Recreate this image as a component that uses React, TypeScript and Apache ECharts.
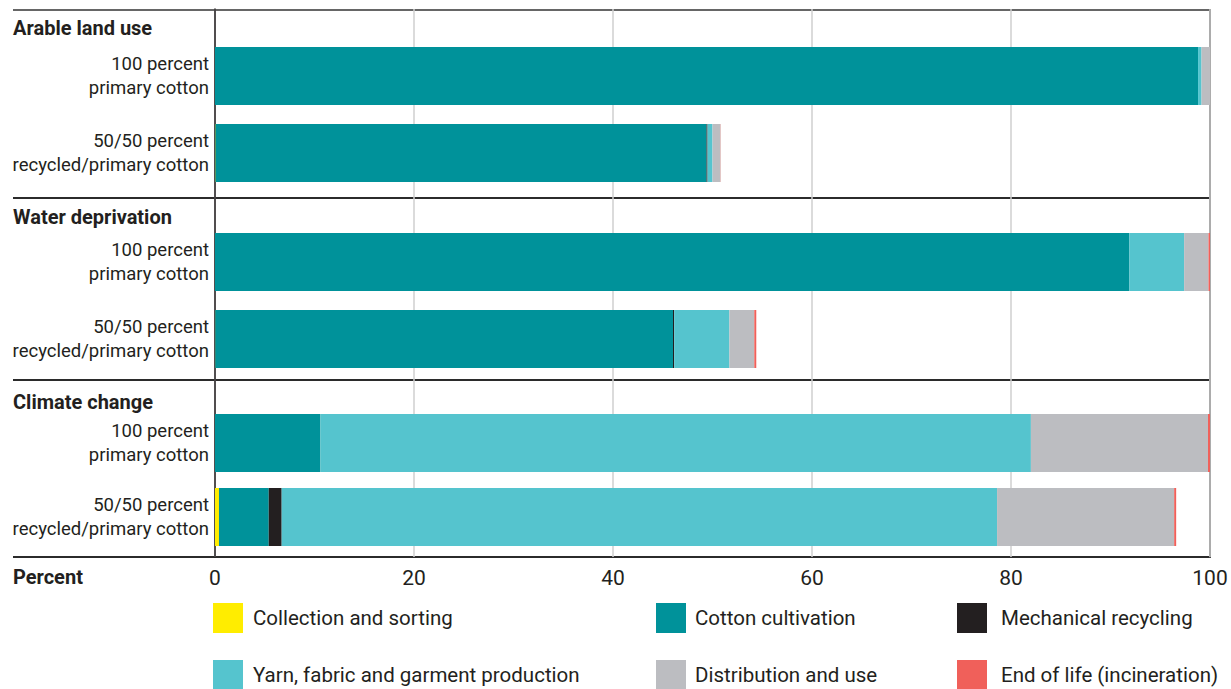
import React, { useEffect, useRef } from "react";
import * as echarts from "echarts";

const groups = ["Arable land use", "Water deprivation", "Climate change"];
const categories = ["100 percent\nprimary cotton", "50/50 percent\nrecycled/primary cotton"];
const stages = [
  "Collection and sorting",
  "Cotton cultivation",
  "Mechanical recycling",
  "Yarn, fabric and garment production",
  "Distribution and use",
  "End of life (incineration)",
];
const stageColors = ["#FFED00", "#00929A", "#231F20", "#55C4CE", "#BCBDC1", "#F0605A"];
const xTicks = [0, 20, 40, 60, 80, 100];

// values per group: [100 percent primary, 50/50 recycled/primary]
const arableLand = {
  collection: [0, 0.05],
  cotton: [98.8, 49.35],
  mechanical: [0, 0.1],
  yarn: [0.35, 0.5],
  distribution: [0.85, 0.8],
  endOfLife: [0.02, 0.02],
};
const waterDeprivation = {
  collection: [0, 0.03],
  cotton: [91.9, 46.0],
  mechanical: [0, 0.12],
  yarn: [5.5, 5.55],
  distribution: [2.45, 2.5],
  endOfLife: [0.15, 0.2],
};
const climateChange = {
  collection: [0, 0.4],
  cotton: [10.6, 5.0],
  mechanical: [0, 1.3],
  yarn: [71.4, 71.9],
  distribution: [17.8, 17.8],
  endOfLife: [0.2, 0.2],
};
const groupData = [arableLand, waterDeprivation, climateChange];
const stageKeys = ["collection", "cotton", "mechanical", "yarn", "distribution", "endOfLife"];

const TEXT = "#231F20";
const FONT = "Roboto";

export default function App() {
  const ref = useRef<HTMLDivElement>(null);
  useEffect(() => {
    document.body.style.margin = "0";
    if (!ref.current) return;
    const chart = echarts.init(ref.current, undefined, { renderer: "svg" });

    const plotLeft = 215;
    const plotRight = 21;
    const barGrids = [
      { top: 37.5, height: 154 },
      { top: 223.5, height: 154 },
      { top: 406, height: 148 },
    ];
    const grid: any[] = [{ left: plotLeft, right: plotRight, top: 9, height: 548 }];
    barGrids.forEach((g) => grid.push({ left: plotLeft, right: plotRight, top: g.top, height: g.height }));

    const xAxis: any[] = [
      {
        type: "value",
        gridIndex: 0,
        min: 0,
        max: 100,
        interval: 20,
        axisLine: { show: false },
        axisTick: { show: false },
        splitLine: { show: true, lineStyle: { color: "#CFCFCF", width: 1.5 } },
        axisLabel: { fontFamily: FONT, fontSize: 21, color: TEXT, margin: 10, formatter: (v: number) => (xTicks.includes(v) ? String(v) : "") },
      },
    ];
    const yAxis: any[] = [
      {
        type: "value",
        gridIndex: 0,
        min: 0,
        max: 1,
        axisLine: { show: true, lineStyle: { color: TEXT, width: 1.5 } },
        axisTick: { show: false },
        axisLabel: { show: false },
        splitLine: { show: false },
      },
    ];
    barGrids.forEach((_, i) => {
      xAxis.push({
        type: "value",
        gridIndex: i + 1,
        min: 0,
        max: 100,
        show: false,
        splitLine: { show: false },
      });
      yAxis.push({
        type: "category",
        gridIndex: i + 1,
        data: categories,
        inverse: true,
        axisLine: { show: false },
        axisTick: { show: false },
        axisLabel: { fontFamily: FONT, fontSize: 18.5, color: TEXT, margin: 6, lineHeight: 24, align: "right" },
      });
    });

    const series: any[] = [];
    groupData.forEach((gd: any, gi) => {
      stageKeys.forEach((k, si) => {
        series.push({
          type: "bar",
          name: stages[si],
          xAxisIndex: gi + 1,
          yAxisIndex: gi + 1,
          stack: "g" + gi,
          barWidth: 58,
          data: gd[k],
          itemStyle: { color: stageColors[si] },
          emphasis: { disabled: true },
        });
      });
    });

    const legendPos = [
      { left: 213, top: 603 },
      { left: 656, top: 603 },
      { left: 957, top: 603 },
      { left: 213, top: 660 },
      { left: 656, top: 660 },
      { left: 957, top: 660 },
    ];
    const legendPad = [5, 4, 9, 5, 4, 9];
    const legend = stages.map((s, i) => ({
      data: [{ name: s, icon: "rect" }],
      left: legendPos[i].left,
      top: legendPos[i].top,
      padding: 0,
      itemWidth: 30,
      itemHeight: 30,
      selectedMode: false,
      textStyle: { fontFamily: FONT, fontSize: 20.5, color: TEXT, padding: [0, 0, 0, legendPad[i]] },
    }));

    const lineStyle = { stroke: "#2B2B2B", lineWidth: 2 };
    const graphic: any[] = [
      { type: "line", shape: { x1: 13, y1: 10, x2: 1211, y2: 10 }, style: { stroke: "#666", lineWidth: 2 } },
      { type: "line", shape: { x1: 13, y1: 198, x2: 1211, y2: 198 }, style: lineStyle },
      { type: "line", shape: { x1: 13, y1: 380, x2: 1211, y2: 380 }, style: lineStyle },
      { type: "line", shape: { x1: 13, y1: 557, x2: 1211, y2: 557 }, style: lineStyle },
      { type: "line", shape: { x1: 1210, y1: 9, x2: 1210, y2: 558 }, style: { stroke: "#444", lineWidth: 2 } },
    ];
    const titleY = [29, 218, 403];
    groups.forEach((g, i) => {
      graphic.push({
        type: "text",
        left: 13,
        top: titleY[i] - 11,
        style: { text: g, fontFamily: FONT, fontSize: 20, fontWeight: "bold", fill: TEXT },
      });
    });
    graphic.push({
      type: "text",
      left: 13,
      top: 567,
      style: { text: "Percent", fontFamily: FONT, fontSize: 20, fontWeight: "bold", fill: TEXT },
    });

    chart.setOption({
      animation: false,
      grid,
      xAxis,
      yAxis,
      series,
      legend,
      graphic,
    });
    return () => chart.dispose();
  }, []);
  return <div ref={ref} style={{ width: 1231, height: 689 }} />;
}
